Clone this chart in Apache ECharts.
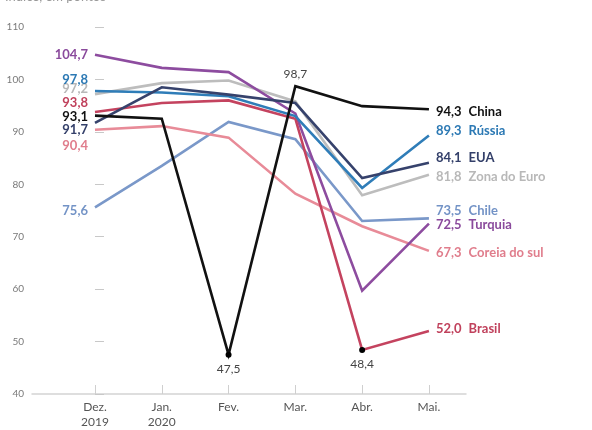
<!DOCTYPE html>
<html>
<head>
<meta charset="utf-8">
<script src="https://cdn.jsdelivr.net/npm/echarts@6/dist/echarts.min.js"></script>
<style>
  html, body { margin: 0; padding: 0; background: #fff; }
  #chart { width: 592px; height: 430px; }
</style>
</head>
<body>
<div id="chart"></div>
<script>
// months on the x axis
const months = ["Dez.\n2019", "Jan.\n2020", "Fev.", "Mar.", "Abr.", "Mai."];
const yTicks = [40, 50, 60, 70, 80, 90, 100, 110];

// index values
const china = [93.1, 92.5, 47.5, 98.7, 94.9, 94.3];
const russia = [97.8, 97.5, 96.8, 93.0, 79.3, 89.3];
const eua = [91.7, 98.5, 97.1, 95.5, 81.2, 84.1];
const zonaEuro = [97.2, 99.3, 99.8, 95.8, 77.9, 81.8];
const chile = [75.6, 83.5, 91.9, 88.6, 73.0, 73.5];
const turquia = [104.7, 102.2, 101.4, 93.5, 59.7, 72.5];
const coreia = [90.4, 91.1, 88.9, 78.2, 72.0, 67.3];
const brasil = [93.8, 95.5, 96.0, 92.5, 48.4, 52.0];

const names = ["Chile", "Coreia do sul", "Zona do Euro", "Turquia", "Brasil", "Rússia", "EUA", "China"];
const values = [chile, coreia, zonaEuro, turquia, brasil, russia, eua, china];

// styling, kept apart from the data
const lineColors = ["#7a98c9", "#e88b98", "#bdbdbd", "#8d4c9f", "#c4435f", "#2f7db8", "#36426c", "#111111"];
const textColors = ["#7393c6", "#e07d8c", "#b8b8b8", "#8a4a9c", "#c0415c", "#2c79b4", "#34406a", "#111111"];
const startOffsets = [3, 16, -5, 0, -9, -11, 7, 1];
const endOffsets = [-8, 2, 2, 1, -2, -5, -5, 2];
// point annotations: [series name, month index, label position]
const notes = [["China", 2, "bottom"], ["China", 3, "top"], ["Brasil", 4, "bottom"]];

const fmt = (v) => v.toFixed(1).replace(".", ",");
const FONT = "Lato";

const chart = echarts.init(document.getElementById("chart"), null, { renderer: "canvas" });

const series = names.map((name, s) => ({
  name,
  type: "line",
  silent: true,
  symbol: "none",
  clip: false,
  z: 2 + s,
  lineStyle: { color: lineColors[s], width: 2.6, join: "miter" },
  itemStyle: { color: lineColors[s] },
  emphasis: { disabled: true },
  data: values[s].map((v, i) => {
    const item = { value: [i, v] };
    if (i === 0) {
      // a zero-size symbol carries the label
      item.symbol = "circle";
      item.symbolSize = 0;
      item.label = {
        show: true,
        position: "left",
        distance: 7,
        offset: [0, startOffsets[s]],
        formatter: fmt(v),
        color: textColors[s],
        fontFamily: FONT,
        fontWeight: "bold",
        fontSize: 13,
      };
    }
    const note = notes.find((n) => n[0] === name && n[1] === i);
    if (note) {
      const dot = note[2] === "bottom";
      item.symbol = "circle";
      item.symbolSize = dot ? 6 : 0;
      item.itemStyle = { color: "#000" };
      item.label = {
        show: true,
        position: note[2],
        distance: dot ? 5 : 6,
        formatter: fmt(v),
        color: "#444",
        fontFamily: FONT,
        fontSize: 12,
      };
    }
    return item;
  }),
  endLabel: {
    show: true,
    distance: 7,
    offset: [0, endOffsets[s]],
    formatter: () => `{v|${fmt(values[s][values[s].length - 1])}}{n|${name}}`,
    rich: {
      v: { color: textColors[s], fontFamily: FONT, fontWeight: "bold", fontSize: 13, padding: [0, 7, 0, 0] },
      n: { color: textColors[s], fontFamily: FONT, fontWeight: "bold", fontSize: 13 },
    },
  },
}));

chart.setOption({
  animation: false,
  title: {
    text: "Índice, em pontos",
    left: 0,
    top: -15,
    textStyle: { color: "#999", fontSize: 13, fontWeight: "normal", fontFamily: FONT },
  },
  grid: { left: 32, right: 126, top: 27, bottom: 33 },
  xAxis: {
    type: "value",
    min: -0.943,
    max: 5.555,
    splitLine: { show: false },
    axisLine: { show: true, onZero: false, lineStyle: { color: "#d4d4d4", width: 1.5 } },
    axisTick: {
      show: true,
      inside: true,
      length: 9,
      customValues: months.map((m, i) => i),
      lineStyle: { color: "#cfcfcf", width: 1 },
    },
    axisLabel: {
      customValues: months.map((m, i) => i),
      formatter: (v) => months[Math.round(v)],
      color: "#555",
      fontFamily: FONT,
      fontSize: 12,
      lineHeight: 15,
      margin: 6,
    },
  },
  yAxis: {
    type: "value",
    min: yTicks[0],
    max: yTicks[yTicks.length - 1],
    interval: 10,
    splitLine: { show: false },
    axisLine: { show: false },
    axisTick: { show: true, inside: true, length: 9, lineStyle: { color: "#c8c8c8", width: 1 } },
    axisLabel: { color: "#7a7a7a", fontFamily: FONT, fontSize: 10, margin: 8 },
  },
  series,
});
</script>
</body>
</html>
